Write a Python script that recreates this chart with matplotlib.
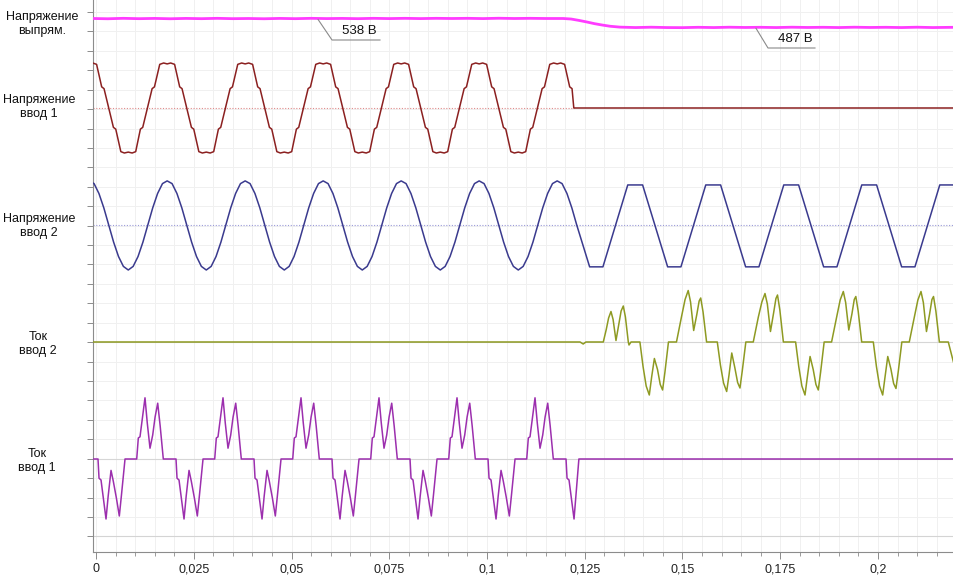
import numpy as np
import matplotlib
matplotlib.use("Agg")
import matplotlib.pyplot as plt
from matplotlib.ticker import FixedLocator

plt.rcParams['font.family'] = ['Liberation Sans', 'DejaVu Sans']

# ---------------- data ----------------
x_ticks = [0, 0.025, 0.05, 0.075, 0.1, 0.125, 0.15, 0.175, 0.2]
x_tick_labels = ["0", "0,025", "0,05", "0,075", "0,1", "0,125", "0,15", "0,175", "0,2"]
row_labels = ["Напряжение\nвыпрям.", "Напряжение\nввод 1", "Напряжение\nввод 2",
              "Ток\nввод 2", "Ток\nввод 1"]

period = 0.01995          # s, one mains cycle as measured on the picture
t_end = 0.2195

# rectified DC-link voltage, V
rect_t = [-0.0008, 0.003, 0.007, 0.011, 0.015, 0.019, 0.023, 0.027, 0.031, 0.035,
          0.039, 0.043, 0.047, 0.051, 0.055, 0.059, 0.063, 0.067, 0.071, 0.075,
          0.079, 0.083, 0.087, 0.091, 0.095, 0.099, 0.103, 0.107, 0.111, 0.115,
          0.1195, 0.1215, 0.1235, 0.1255, 0.1275, 0.1295, 0.1315, 0.134,
          0.138, 0.142, 0.146, 0.150, 0.154, 0.158, 0.162, 0.166, 0.170, 0.174,
          0.178, 0.182, 0.186, 0.190, 0.194, 0.198, 0.202, 0.206, 0.210, 0.214, 0.2195]
rect_v = [538, 536.5, 539, 537, 538.5, 536.5, 538.5, 537, 539, 537,
          538, 536.5, 538.5, 537, 539, 537.5, 538.5, 537, 539, 537.5,
          539, 537.5, 539, 538, 539, 537.5, 539.5, 538, 539, 538,
          538, 535, 527, 518, 508, 500, 493, 488,
          485.5, 487.5, 485.5, 485, 487, 485.5, 487.5, 486, 487, 485.5,
          487.5, 486, 487, 485.5, 487.5, 486, 487, 485.5, 487.5, 485.5, 487]
label_538_t, label_538_v = 0.0568, 538
label_487_t, label_487_v = 0.1688, 487

# phase voltage, input 1 (p.u.) - one cycle relative to the top centre (ms)
v1_cycle_ms = [-1.9, -0.9, 0.0, 0.9, 1.9, 3.2, 3.8, 5.0, 6.2, 6.8,
               8.1, 9.0, 10.0, 11.0, 11.9, 13.1, 13.7, 14.9, 16.1, 16.7]
v1_cycle_v = [0.97, 1.0, 0.98, 1.0, 0.97, 0.47, 0.43, 0.0, -0.43, -0.47,
              -0.97, -1.0, -0.98, -1.0, -0.97, -0.47, -0.43, 0.0, 0.43, 0.47]
v1_first_top = 0.0182
v1_cycles = 6
v1_off_t = 0.1222

# phase voltage, input 2 (p.u.) - sine cycle relative to its peak (ms)
v2_sine_ms = [0, 1.25, 2.5, 3.75, 5.0, 6.25, 7.5, 8.75, 10.0, 11.25,
              12.5, 13.75, 15.0, 16.25, 17.5, 18.75]
v2_sine_v = [0.98, 0.92, 0.70, 0.38, 0.0, -0.38, -0.70, -0.92, -1.0, -0.92,
             -0.70, -0.38, 0.0, 0.38, 0.70, 0.92]
v2_trap_ms = [-1.9, 1.9, 8.3, 11.7]
v2_trap_v = [0.89, 0.89, -0.93, -0.93]
v2_first_top = 0.0182
v2_sine_cycles = 6
v2_trap_cycles = 5

# current, input 2 (p.u.) - traced point by point
i2_t = [-0.0008, 0.1238, 0.1246, 0.1253,
        # first (partial) positive half
        0.12974, 0.13050, 0.13110, 0.13171, 0.13225, 0.13299, 0.13370, 0.13430, 0.13486,
        0.13540, 0.13614, 0.13632, 0.13683,
        # negative 1
        0.13911, 0.13991, 0.14071, 0.14151, 0.14211, 0.14281, 0.14361, 0.14431, 0.14491, 0.14551, 0.14641,
        # positive 2
        0.14846, 0.14976, 0.15066, 0.15146, 0.15206, 0.15286, 0.15366, 0.15426, 0.15466, 0.15526, 0.15616,
        # negative 2
        0.1589, 0.1597, 0.1605, 0.1613, 0.1619, 0.1626, 0.1634, 0.1641, 0.1647, 0.1653, 0.1662,
        # positive 3
        0.1681, 0.1694, 0.1703, 0.1711, 0.1717, 0.1725, 0.1733, 0.1739, 0.1743, 0.1749, 0.1758,
        # negative 3
        0.17893, 0.17973, 0.18053, 0.18133, 0.18193, 0.18263, 0.18343, 0.18413, 0.18473, 0.18533, 0.18623,
        # positive 4
        0.18813, 0.18943, 0.19033, 0.19113, 0.19173, 0.19253, 0.19333, 0.19393, 0.19433, 0.19493, 0.19583,
        # negative 4
        0.1988, 0.1996, 0.2004, 0.2012, 0.2018, 0.2025, 0.2033, 0.2040, 0.2046, 0.2052, 0.2061,
        # positive 5
        0.2080, 0.2093, 0.2102, 0.2110, 0.2116, 0.2124, 0.2132, 0.2138, 0.2142, 0.2148, 0.2157,
        0.21798, 0.21926, 0.2195]
i2_v = [0, 0, -0.04, 0,
        0, 0.25, 0.48, 0.61, 0.45, 0.03, 0.35, 0.62, 0.72,
        0.50, 0, -0.06, 0,
        0, -0.49, -0.88, -1.06, -0.70, -0.33, -0.55, -0.85, -0.96, -0.60, 0,
        0, 0.51, 0.85, 1.03, 0.80, 0.23, 0.55, 0.82, 0.88, 0.60, 0,
        0, -0.46, -0.82, -0.99, -0.66, -0.22, -0.52, -0.81, -0.92, -0.57, 0,
        0, 0.50, 0.80, 0.97, 0.76, 0.21, 0.58, 0.87, 0.94, 0.64, 0,
        0, -0.49, -0.88, -1.06, -0.70, -0.29, -0.55, -0.85, -0.96, -0.60, 0,
        0, 0.50, 0.84, 1.01, 0.79, 0.24, 0.56, 0.85, 0.91, 0.62, 0,
        0, -0.49, -0.88, -1.06, -0.70, -0.29, -0.54, -0.83, -0.93, -0.58, 0,
        0, 0.50, 0.84, 1.01, 0.79, 0.21, 0.56, 0.85, 0.91, 0.62, 0,
        0, -0.39, -0.45]

# current, input 1 (p.u.) - one cycle relative to the start of the negative half (ms)
i1_cycle_ms = [0, 0.26, 0.77, 1.5, 2.05, 2.6, 3.33, 3.91, 4.7, 5.45, 6.0, 6.91,
               9.9, 10.31, 10.74, 11.5, 12.02, 12.6, 13.30, 13.99, 14.6, 15.27, 15.9, 16.70]
i1_cycle_v = [0, -0.32, -0.35, -0.72, -1.0, -0.62, -0.19, -0.37, -0.65, -0.95, -0.60, 0,
              0, 0.35, 0.37, 0.75, 1.02, 0.60, 0.18, 0.40, 0.70, 0.93, 0.55, 0]
i1_first_start = 0.00051
i1_cycles = 6
i1_off_t = 0.1235

# ---------------- build traces from the read cycles ----------------
def cycles(first, n, offs, vals, k0=0):
    t, v = [], []
    for k in range(k0, k0 + n):
        base = first + period * k
        for o, val in zip(offs, vals):
            t.append(base + o / 1000.0)
            v.append(val)
    return t, v

# input 1 voltage
v1_t, v1_v = cycles(v1_first_top, v1_cycles, v1_cycle_ms, v1_cycle_v, k0=-1)
last_top = v1_first_top + period * (v1_cycles - 1)
for o, val in zip(v1_cycle_ms, v1_cycle_v):
    if o <= 3.8:
        v1_t.append(last_top + o / 1000.0)
        v1_v.append(val)
v1_t += [v1_off_t, t_end]
v1_v += [0.0, 0.0]

# input 2 voltage
v2_t, v2_v = cycles(v2_first_top, v2_sine_cycles, v2_sine_ms, v2_sine_v, k0=-1)
last_peak = v2_first_top + period * (v2_sine_cycles - 1)
for o, val in zip(v2_sine_ms, v2_sine_v):
    if o <= 5.0:
        v2_t.append(last_peak + o / 1000.0)
        v2_v.append(val)
for o, val in zip(v2_trap_ms[2:], v2_trap_v[2:]):
    v2_t.append(last_peak + o / 1000.0)
    v2_v.append(val)
tt, tv = cycles(v2_first_top, v2_trap_cycles, v2_trap_ms, v2_trap_v, k0=v2_sine_cycles)
v2_t += tt
v2_v += tv

# input 1 current
i1_t, i1_v = [-0.0008], [0.0]
tt, tv = cycles(i1_first_start, i1_cycles, i1_cycle_ms, i1_cycle_v)
i1_t += tt
i1_v += tv
last_start = i1_first_start + period * i1_cycles
for o, val in zip(i1_cycle_ms, i1_cycle_v):
    if o <= 2.05:
        i1_t.append(last_start + o / 1000.0)
        i1_v.append(val)
i1_t += [i1_off_t, t_end]
i1_v += [0.0, 0.0]

# ---------------- figure ----------------
W, H = 954, 576
fig = plt.figure(figsize=(W / 100, H / 100), dpi=100)
ax = fig.add_axes([93 / W, (H - 552) / H, (W - 93) / W, 552 / H])
ax.set_xlim(-0.00077, 0.21944)
ax.set_ylim(552, 0)   # vertical axis in screen-like units, rows stacked

# rows: (zero-line position, units per p.u.)
rect_y0, rect_scale = 18.5, 1 / 5.8   # px per volt
row_zero = [None, 108, 225, 342, 459]
row_gain = [None, 45, 45, 50, 60]

def rows(i, vals):
    return [row_zero[i] - row_gain[i] * v for v in vals]

# grid
ax.xaxis.set_major_locator(FixedLocator(x_ticks))
ax.xaxis.set_minor_locator(FixedLocator(np.arange(0, 0.2196, 0.005)))
ytick_pos = np.arange(12, 552, 19.42)
ax.yaxis.set_major_locator(FixedLocator(ytick_pos))
ax.set_yticklabels([])
ax.grid(True, which='both', axis='x', color='#f0f0f0', lw=0.7)
ax.grid(True, which='major', axis='y', color='#f0f0f0', lw=0.7)
ax.set_axisbelow(True)

for s in ['top', 'right']:
    ax.spines[s].set_visible(False)
ax.spines['left'].set_color('#8c8c8c')
ax.spines['bottom'].set_color('#8c8c8c')
ax.spines['left'].set_linewidth(0.8)
ax.spines['bottom'].set_linewidth(0.8)
ax.tick_params(axis='y', which='major', direction='out', length=4, color='#8c8c8c', width=0.7)
ax.tick_params(axis='x', which='major', direction='out', length=5, color='#8c8c8c', width=0.7,
               labelsize=9, labelcolor='#222222', pad=3)
ax.tick_params(axis='x', which='minor', direction='out', length=3, color='#8c8c8c', width=0.6)
ax.set_xticklabels(x_tick_labels)

# panel lower boundary
ax.axhline(536, color='#d4d4d4', lw=0.8, zorder=1)

# zero lines
ax.plot([-0.00077, v1_off_t], [row_zero[1]] * 2, color='#e08a8a', lw=0.8, ls=(0, (1, 1.5)), zorder=2)
ax.plot([-0.00077, 0.21944], [row_zero[2]] * 2, color='#9a9ad8', lw=0.8, ls=(0, (1, 1.5)), zorder=2)
ax.axhline(row_zero[3], color='#d6d6d6', lw=0.8, zorder=1)
ax.axhline(row_zero[4], color='#d6d6d6', lw=0.8, zorder=1)

# traces
ax.plot(rect_t, [rect_y0 - (v - 538) * rect_scale for v in rect_v], color='#ff3cff', lw=2.0, zorder=3)
ax.plot(v1_t, rows(1, v1_v), color='#8b2020', lw=1.1, zorder=3)
ax.plot(v2_t, rows(2, v2_v), color='#3a3a8e', lw=1.1, zorder=3)
ax.plot(i2_t, rows(3, i2_v), color='#8e9a22', lw=1.1, zorder=3)
ax.plot(i1_t, rows(4, i1_v), color='#9c2fae', lw=1.1, zorder=3)

# value callouts
def px_t(px):
    return (px - 96) / 3910.0

y538 = rect_y0 - (label_538_v - 538) * rect_scale
ax.plot([label_538_t, px_t(332), px_t(380)], [y538 + 1, 40, 40], color='#8a8a8a', lw=0.8, zorder=4)
ax.text(px_t(359), 31, "538 В", ha='center', va='center', fontsize=9.5, color='#111111')
y487 = rect_y0 - (label_487_v - 538) * rect_scale
ax.plot([label_487_t, px_t(768), px_t(815)], [y487 + 1, 48, 48], color='#8a8a8a', lw=0.8, zorder=4)
ax.text(px_t(795), 38.5, "487 В", ha='center', va='center', fontsize=9.5, color='#111111')

# row labels
label_pos = [(42, 24), (39, 107), (39, 226), (38, 344), (37, 461)]
for (lx, ly), txt in zip(label_pos, row_labels):
    fig.text(lx / W, 1 - ly / H, txt, ha='center', va='center', fontsize=9,
             color='#111111', linespacing=1.15)

fig.savefig("out.png", dpi=100)
